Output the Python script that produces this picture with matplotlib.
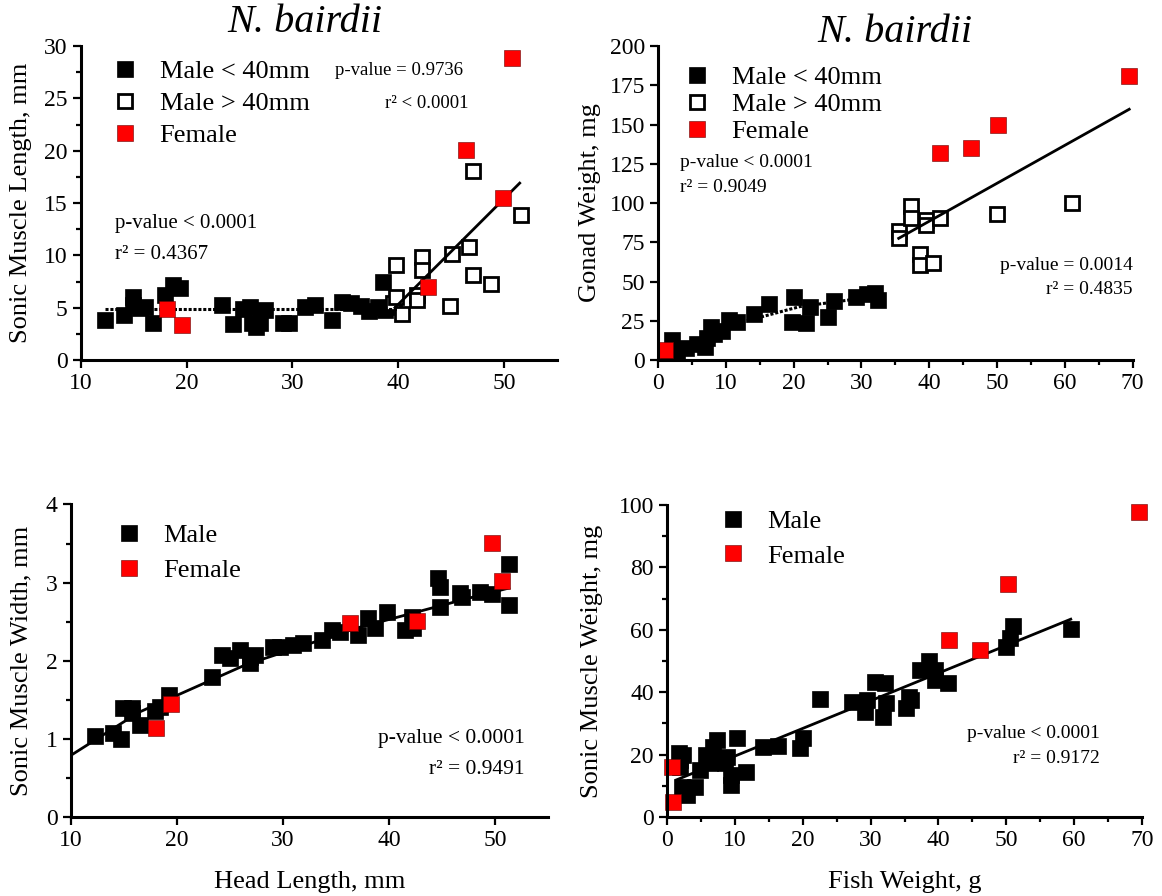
import matplotlib
matplotlib.use("Agg")
import matplotlib.pyplot as plt
from matplotlib.ticker import MultipleLocator
from matplotlib.lines import Line2D

plt.rcParams['font.family'] = ['Liberation Serif', 'DejaVu Serif']

# ---- panel A: head length vs sonic muscle length
a_small_x = [12.3, 14.1, 14.9, 14.9, 15.6, 16.1, 16.8, 17.9, 18.7, 19.4, 23.3, 24.4, 25.3, 26.0,
             26.2, 26.9, 26.6, 27.4, 29.1, 29.7, 31.2, 32.1, 33.7, 34.7, 35.5, 36.5, 37.2, 38.1,
             38.6, 38.8, 39.6]
a_small_y = [3.8, 4.3, 6.0, 5.3, 5.0, 5.1, 3.5, 6.2, 7.2, 6.9, 5.3, 3.4, 4.9, 5.1,
             3.5, 3.5, 3.2, 4.8, 3.5, 3.5, 5.1, 5.3, 3.8, 5.5, 5.4, 5.2, 4.7, 5.1,
             7.5, 4.8, 5.1]
a_large_x = [39.5, 39.8, 39.8, 40.4, 41.8, 41.8, 42.3, 42.3, 45.1, 44.9, 46.7, 47.1, 47.1, 48.8, 51.6]
a_large_y = [5.4, 6.0, 9.1, 4.4, 6.2, 5.7, 9.8, 8.6, 10.1, 5.2, 10.8, 18.1, 8.1, 7.3, 13.9]
a_fem_x = [18.1, 19.6, 42.8, 46.4, 49.9, 50.8]
a_fem_y = [4.9, 3.3, 7.0, 20.1, 15.5, 28.9]
a_fit1_x = [12.3, 39.9]
a_fit1_y = [4.85, 4.85]
a_fit2_x = [39.7, 51.5]
a_fit2_y = [5.0, 16.9]

# ---- panel B: fish weight vs gonad weight
b_small_x = [1.5, 2.0, 2.8, 4.2, 5.7, 6.9, 7.2, 7.8, 8.2, 9.4, 10.4, 11.7, 14.2, 16.4, 20.0,
             19.7, 21.9, 22.4, 25.1, 26.0, 29.2, 30.8, 32.0, 32.5]
b_small_y = [2.0, 12.5, 3.2, 7.4, 10.4, 8.0, 13.8, 21.2, 16.5, 18.5, 25.5, 24.4, 29.5, 35.9, 40.3,
             24.4, 23.4, 34.0, 27.4, 37.8, 40.0, 42.0, 42.9, 38.2]
b_large_x = [35.5, 35.5, 37.3, 37.3, 39.5, 39.5, 41.6, 38.6, 38.6, 40.6, 50.0, 61.1]
b_large_y = [82, 78, 98.3, 90.2, 89.2, 86, 90.6, 67.3, 60.5, 61.6, 92.8, 99.8]
b_fem_x = [1.0, 41.6, 46.1, 50.2, 69.5]
b_fem_y = [6.4, 132, 135.2, 149.7, 180.9]
b_fit1_x = [1.3, 7.7, 12.6, 20.9, 31.8]
b_fit1_y = [2.1, 17, 24.4, 34, 40.3]
b_fit2_x = [35.5, 69.5]
b_fit2_y = [77.5, 159.7]

# ---- panel C: head length vs sonic muscle width
c_male_x = [12.3, 14.0, 14.7, 14.9, 15.8, 15.8, 16.5, 17.9, 18.4, 19.2, 23.3, 24.2, 25.0, 25.9,
            26.9, 26.9, 27.4, 29.1, 29.7, 30.9, 31.9, 33.7, 34.6, 35.4, 37.1, 38.0, 38.7, 39.8,
            41.5, 42.2, 42.3, 44.6, 44.8, 44.8, 46.7, 46.9, 48.6, 49.7, 51.3, 51.3]
c_male_y = [1.04, 1.08, 1.00, 1.40, 1.40, 1.33, 1.18, 1.36, 1.41, 1.56, 1.79, 2.07, 2.04, 2.14,
            2.05, 1.97, 2.07, 2.18, 2.18, 2.20, 2.23, 2.27, 2.39, 2.37, 2.33, 2.55, 2.42, 2.62,
            2.39, 2.56, 2.42, 3.06, 2.95, 2.69, 2.87, 2.82, 2.88, 2.86, 3.24, 2.71]
c_fem_x = [18.0, 19.4, 36.3, 42.6, 49.7, 50.7]
c_fem_y = [1.14, 1.45, 2.48, 2.51, 3.51, 3.02]
c_fit_x = [10, 16.4, 26.5, 37, 47.5, 51.3]
c_fit_y = [0.79, 1.34, 1.95, 2.42, 2.80, 2.93]

# ---- panel D: fish weight vs sonic muscle weight
d_male_x = [1.7, 1.9, 1.9, 2.4, 2.2, 2.9, 2.4, 4.1, 4.9, 5.8, 6.8, 7.3, 6.3, 7.6, 8.5, 8.8, 9.5,
            9.5, 10.3, 11.7, 14.2, 16.4, 19.6, 20.1, 22.5, 27.2, 29.2, 29.4, 30.6, 32.1, 32.3,
            31.9, 35.2, 35.6, 36.0, 37.3, 38.6, 39.5, 39.5, 41.4, 49.9, 50.5, 51.0, 59.5]
d_male_y = [20.4, 18.3, 16.1, 19.9, 9.7, 7.1, 8.1, 9.7, 15.1, 19.9, 22.5, 24.7, 17.2, 18.3, 17.2,
            19.3, 10.3, 13.5, 25.2, 14.5, 22.5, 22.8, 22.0, 25.2, 37.7, 37.0, 33.8, 37.5, 43.4,
            42.9, 36.4, 32.1, 34.8, 38.6, 37.5, 47.1, 50.1, 47.1, 43.9, 43.1, 54.6, 57.3, 61.3, 60.3]
d_fem_x = [0.7, 0.9, 41.6, 46.1, 50.2, 69.5]
d_fem_y = [16.1, 4.9, 56.7, 53.5, 74.7, 97.9]
d_fit_x = [1.4, 59.5]
d_fit_y = [11.9, 63.4]

W, H = 1162, 896
fig = plt.figure(figsize=(W / 100, H / 100), dpi=100)


def px_axes(left, top, right, bottom):
    ax = fig.add_axes([left / W, 1 - bottom / H, (right - left) / W, (bottom - top) / H])
    for s in ['top', 'right']:
        ax.spines[s].set_visible(False)
    for s in ['left', 'bottom']:
        ax.spines[s].set_linewidth(2.2)
    ax.tick_params(which='major', direction='out', length=6, width=1.6, labelsize=17)
    ax.tick_params(which='minor', direction='out', length=3.5, width=1.6)
    return ax


ms = 12
blk = dict(ls='none', marker='s', ms=ms, mfc='black', mec='black', mew=0.5)
opn = dict(ls='none', marker='s', ms=ms - 1.5, mfc='white', mec='black', mew=2.0)
red = dict(ls='none', marker='s', ms=ms - 1, mfc='#ff0000', mec='#660000', mew=0.4)
dotted = dict(color='black', lw=2.2, ls=(0, (1.0, 0.6)))
solid = dict(color='black', lw=2.0)


def add_legend(ax, handles, labels, left, top, spacing):
    ax.legend(handles, labels, loc='upper left', bbox_to_anchor=(left / W, 1 - top / H),
              bbox_transform=fig.transFigure, frameon=False, fontsize=19, borderpad=0,
              handlelength=1.0, handletextpad=0.8, labelspacing=spacing, borderaxespad=0)


h_blk = Line2D([], [], **blk)
h_opn = Line2D([], [], **opn)
h_red = Line2D([], [], **red)

# A
ax = px_axes(81, 46, 556.7, 360)
ax.plot(a_small_x, a_small_y, **blk)
ax.plot(a_large_x, a_large_y, **opn)
ax.plot(a_fit1_x, a_fit1_y, **dotted)
ax.plot(a_fit2_x, a_fit2_y, **solid)
ax.plot(a_fem_x, a_fem_y, **red, clip_on=False)
ax.set_xlim(10, 55)
ax.set_ylim(0, 30)
ax.xaxis.set_major_locator(MultipleLocator(10))
ax.yaxis.set_major_locator(MultipleLocator(5))
ax.yaxis.set_minor_locator(MultipleLocator(2.5))
ax.set_ylabel('Sonic Muscle Length, mm', fontsize=19)
ax.yaxis.set_label_coords(-0.102, 0.5)
ax.text(34.0, 27.7, 'p-value = 0.9736', fontsize=13.5, va='center')
ax.text(38.8, 24.5, 'r² < 0.0001', fontsize=13.5, va='center')
ax.text(13.2, 13.0, 'p-value < 0.0001', fontsize=15, va='center')
ax.text(13.2, 10.1, 'r² = 0.4367', fontsize=15, va='center')
add_legend(ax, [h_blk, h_opn, h_red], ['Male < 40mm', 'Male > 40mm', 'Female'], 112, 60, 0.32)
fig.text(305 / W, 1 - 22 / H, 'N. bairdii', fontsize=29, style='italic', ha='center', va='center')

# B
ax = px_axes(658, 46, 1132.6, 360)
ax.plot(b_small_x, b_small_y, **blk)
ax.plot(b_large_x, b_large_y, **opn)
ax.plot(b_fit1_x, b_fit1_y, **dotted)
ax.plot(b_fit2_x, b_fit2_y, **solid)
ax.plot(b_fem_x, b_fem_y, **red, clip_on=False)
ax.set_xlim(0, 70)
ax.set_ylim(0, 200)
ax.xaxis.set_major_locator(MultipleLocator(10))
ax.xaxis.set_minor_locator(MultipleLocator(5))
ax.yaxis.set_major_locator(MultipleLocator(25))
ax.set_ylabel('Gonad Weight, mg', fontsize=19)
ax.yaxis.set_label_coords(-0.12, 0.5)
ax.text(3.2, 126, 'p-value < 0.0001', fontsize=14, va='center')
ax.text(3.2, 109.6, 'r² = 0.9049', fontsize=14, va='center')
ax.text(70, 60.5, 'p-value = 0.0014', fontsize=14, va='center', ha='right')
ax.text(70, 44.6, 'r² = 0.4835', fontsize=14, va='center', ha='right')
add_legend(ax, [h_blk, h_opn, h_red], ['Male < 40mm', 'Male > 40mm', 'Female'], 684, 66, 0.12)
fig.text(895 / W, 1 - 32 / H, 'N. bairdii', fontsize=29, style='italic', ha='center', va='center')

# C
ax = px_axes(71, 504.5, 548, 817)
ax.plot(c_fit_x, c_fit_y, **solid)
ax.plot(c_male_x, c_male_y, **blk)
ax.plot(c_fem_x, c_fem_y, **red)
ax.set_xlim(10, 55)
ax.set_ylim(0, 4)
ax.xaxis.set_major_locator(MultipleLocator(10))
ax.yaxis.set_major_locator(MultipleLocator(1))
ax.yaxis.set_minor_locator(MultipleLocator(0.5))
ax.set_ylabel('Sonic Muscle Width, mm', fontsize=19)
ax.yaxis.set_label_coords(-0.08, 0.5)
ax.set_xlabel('Head Length, mm', fontsize=19, labelpad=14)
ax.text(52.8, 1.0, 'p-value < 0.0001', fontsize=15.5, va='center', ha='right')
ax.text(52.8, 0.61, 'r² = 0.9491', fontsize=15.5, va='center', ha='right')
add_legend(ax, [h_blk, h_red], ['Male', 'Female'], 116, 524, 0.42)

# D
ax = px_axes(667, 505, 1142, 817)
ax.plot(d_male_x, d_male_y, **blk)
ax.plot(d_fit_x, d_fit_y, **solid)
ax.plot(d_fem_x, d_fem_y, **red, clip_on=False)
ax.set_xlim(0, 70)
ax.set_ylim(0, 100)
ax.xaxis.set_major_locator(MultipleLocator(10))
ax.xaxis.set_minor_locator(MultipleLocator(5))
ax.yaxis.set_major_locator(MultipleLocator(20))
ax.yaxis.set_minor_locator(MultipleLocator(10))
ax.set_ylabel('Sonic Muscle Weight, mg', fontsize=19)
ax.yaxis.set_label_coords(-0.135, 0.5)
ax.set_xlabel('Fish Weight, g', fontsize=19, labelpad=14)
ax.text(63.8, 26.9, 'p-value < 0.0001', fontsize=14, va='center', ha='right')
ax.text(63.8, 18.9, 'r² = 0.9172', fontsize=14, va='center', ha='right')
add_legend(ax, [h_blk, h_red], ['Male', 'Female'], 720, 510, 0.4)

fig.savefig('out.png', dpi=100)
